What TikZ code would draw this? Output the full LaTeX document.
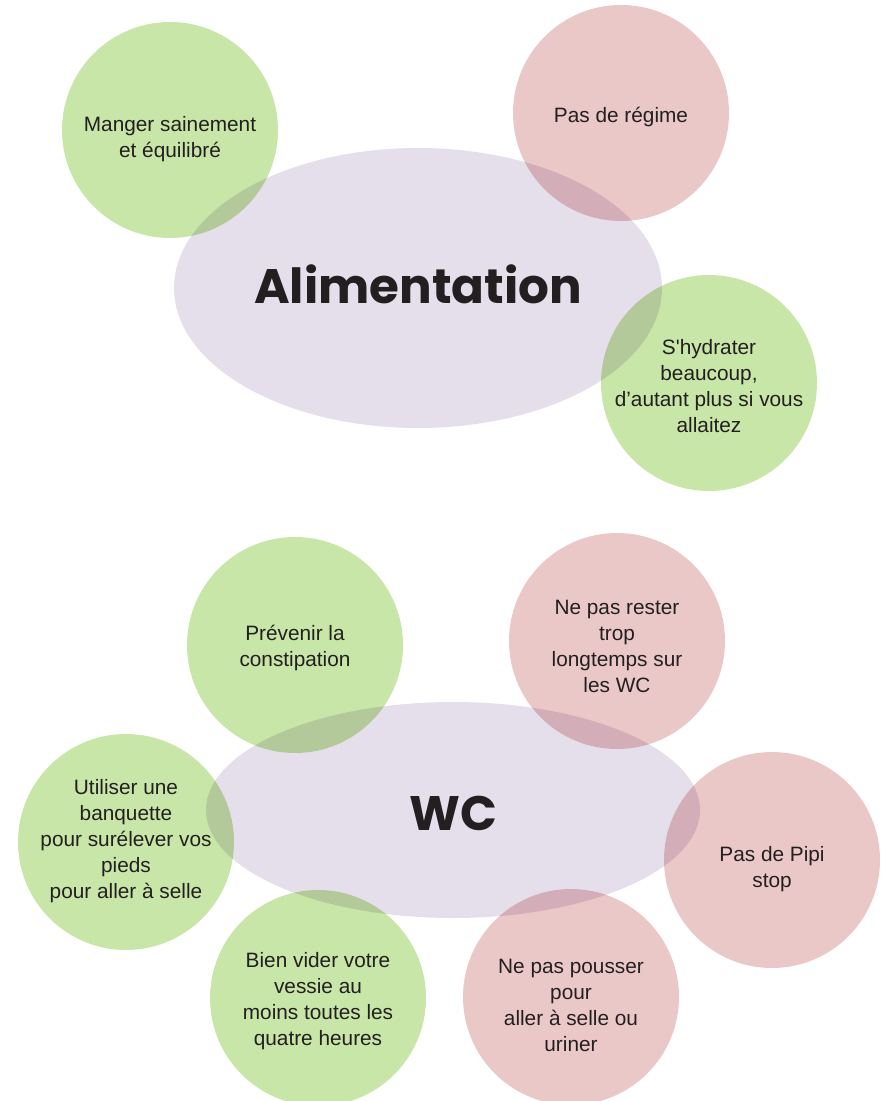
\documentclass[tikz,border=0pt]{standalone}
\usepackage{fontspec}
\setmainfont{Liberation Sans}
\newfontfamily\titlefont{Poppins}
\usetikzlibrary{shapes.geometric}

\definecolor{leafgreen}{RGB}{200,230,167}
\definecolor{rosepink}{RGB}{235,200,200}
\definecolor{lavender}{RGB}{229,223,236}
\definecolor{inkgray}{RGB}{35,31,32}

\begin{document}
\begin{tikzpicture}[x=0.5pt,y=-0.5pt,
  bubble/.style={circle,minimum size=108pt,inner sep=0pt,blend mode=multiply},
  advice/.style={bubble,fill=leafgreen},
  caution/.style={bubble,fill=rosepink},
  theme/.style={ellipse,fill=lavender,inner sep=0pt,blend mode=multiply},
  note/.style={align=center,inner sep=0pt,text=inkgray,font=\fontsize{10.4}{13}\selectfont},
  headline/.style={inner sep=0pt,text=inkgray,font=\titlefont\bfseries\fontsize{24.2}{28}\selectfont}]

\useasboundingbox (0,0) rectangle (890,1101);

% top group: food
\node[theme,minimum width=244pt,minimum height=140pt] (food) at (418,288) {};
\node[advice]  (healthy) at (170,130) {};
\node[caution] (nodiet)  at (621,113) {};
\node[advice]  (drink)   at (709,383) {};

\node[headline] (food-txt) at (418,284) {Alimentation};
\node[note] (healthy-txt) at (170,139) {Manger sainement\\et équilibré};
\node[note] (nodiet-txt)  at (621,117) {Pas de régime};
\node[note] (drink-txt)   at (709,386) {S\textquotesingle hydrater\\beaucoup,\\d’autant plus si vous\\allaitez};

% bottom group: toilets
\node[theme,minimum width=247pt,minimum height=108pt] (wc) at (453,810) {};
\node[advice]  (constip) at (295,645) {};
\node[caution] (notlong) at (617,641) {};
\node[advice]  (stool)   at (126,842) {};
\node[caution] (pipi)    at (772,860) {};
\node[advice]  (bladder) at (318,998) {};
\node[caution] (nopush)  at (571,997) {};

\node[headline] (wc-txt) at (453,813) {WC};
\node[note] (constip-txt) at (295,648)  {Prévenir la\\constipation};
\node[note] (notlong-txt) at (617,646)  {Ne pas rester\\trop\\longtemps sur\\les WC};
\node[note] (stool-txt)   at (126,841)  {Utiliser une\\banquette\\pour surélever vos\\pieds\\pour aller à selle};
\node[note] (pipi-txt)    at (772,869)  {Pas de Pipi\\stop};
\node[note] (bladder-txt) at (318,1001) {Bien vider votre\\vessie au\\moins toutes les\\quatre heures};
\node[note] (nopush-txt)  at (571,1005) {Ne pas pousser\\pour\\aller à selle ou\\uriner};

\end{tikzpicture}
\end{document}
